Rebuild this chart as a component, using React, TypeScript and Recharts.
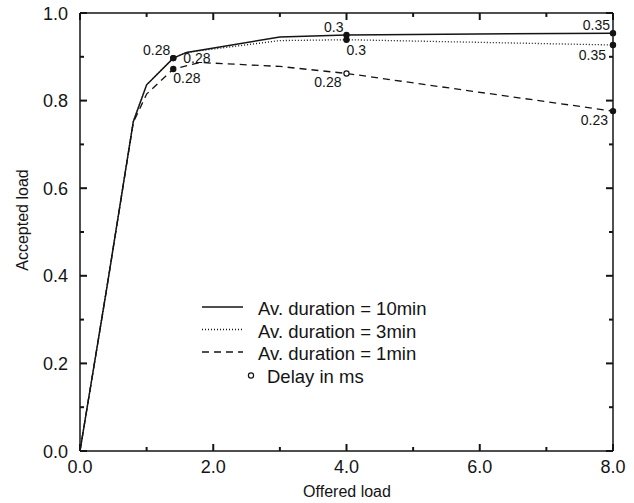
import React from 'react';
import { LineChart, Line, XAxis, YAxis, ReferenceLine } from 'recharts';

// offered load on the x axis, accepted load on the y axis
const offered10 = [0, 0.4, 0.8, 1.0, 1.4, 1.6, 3.0, 4.0, 8.0];
const accepted10 = [0, 0.37, 0.752, 0.836, 0.897, 0.91, 0.945, 0.95, 0.954];
const delay10 = [null, null, null, null, 0.28, null, null, 0.3, 0.35];

const offered3 = [0, 0.4, 0.8, 1.0, 1.4, 1.6, 3.0, 4.0, 8.0];
const accepted3 = [0, 0.37, 0.752, 0.836, 0.897, 0.91, 0.937, 0.939, 0.927];
const delay3 = [null, null, null, null, 0.28, null, null, 0.3, 0.35];

const offered1 = [0, 0.4, 0.8, 1.0, 1.4, 1.8, 3.0, 4.0, 8.0];
const accepted1 = [0, 0.37, 0.75, 0.815, 0.872, 0.887, 0.878, 0.862, 0.776];
const delay1 = [null, null, null, null, 0.28, null, null, 0.28, 0.23];

const xTicks = [0, 1, 2, 3, 4, 5, 6, 7, 8];
const yTicks = [0, 0.1, 0.2, 0.3, 0.4, 0.5, 0.6, 0.7, 0.8, 0.9, 1.0];

const legendItems = [
    { label: 'Av. duration = 10min', dash: undefined as string | undefined, kind: 'line' },
    { label: 'Av. duration = 3min', dash: '1 2', kind: 'line' },
    { label: 'Av. duration = 1min', dash: '7 5', kind: 'line' },
    { label: 'Delay in ms', dash: undefined, kind: 'dot' },
];

const build = (xs: number[], ys: number[], ds: (number | null)[]) =>
    xs.map((x, i) => ({ x, y: ys[i], delay: ds[i] }));

const data10 = build(offered10, accepted10, delay10);
const data3 = build(offered3, accepted3, delay3);
const data1 = build(offered1, accepted1, delay1);

const INK = '#141414';
const FONT = '"Liberation Sans", Arial, Helvetica, sans-serif';
const X_MAX = 8;
const Y_MAX = 1;

const isMajorX = (v: number) => v % 2 === 0;
const isMajorY = (v: number) => Math.round(v * 10) % 2 === 0;

// ticks point into the plot, labels sit outside
const BottomTick = (props: any) => {
    const { x, y, payload } = props;
    const major = isMajorX(payload.value);
    return (
        <g>
            <line x1={x} y1={y} x2={x} y2={y - (major ? 7 : 4)} stroke={INK} strokeWidth={2} />
            {major && (
                <text x={x} y={y + 22} textAnchor="middle" fontSize={18} fontFamily={FONT} fill={INK}>
                    {payload.value.toFixed(1)}
                </text>
            )}
        </g>
    );
};

const LeftTick = (props: any) => {
    const { x, y, payload } = props;
    const major = isMajorY(payload.value);
    return (
        <g>
            <line x1={x} y1={y} x2={x + (major ? 7 : 4)} y2={y} stroke={INK} strokeWidth={2} />
            {major && (
                <text x={x - 12} y={y + 6.5} textAnchor="end" fontSize={18} fontFamily={FONT} fill={INK}>
                    {payload.value.toFixed(1)}
                </text>
            )}
        </g>
    );
};

// dot + delay label, placed per series
const makeDot = (series: string) => (props: any) => {
    const { cx, cy, payload, index } = props;
    if (payload.delay == null) return <g key={`${series}-${index}`} />;
    const open = series === '1' && payload.x === 4;
    let tx = cx - 3;
    let ty = cy - 3;
    let anchor: 'start' | 'end' = 'end';
    if (series === '3') {
        if (payload.x < 2) { tx = cx + 10; ty = cy + 5; anchor = 'start'; }
        else { tx = payload.x >= 8 ? cx - 7 : cx; ty = cy + 15; anchor = payload.x >= 8 ? 'end' : 'start'; }
    } else if (series === '1') {
        ty = cy + 14;
        if (payload.x < 2) { tx = cx; anchor = 'start'; }
        else { tx = cx - 5; anchor = 'end'; }
    }
    return (
        <g key={`${series}-${index}`}>
            <circle cx={cx} cy={cy} r={2.6} fill={open ? '#fff' : INK} stroke={INK} strokeWidth={1.2} />
            <text x={tx} y={ty} textAnchor={anchor} fontSize={14} fontFamily={FONT} fill={INK}>
                {String(payload.delay)}
            </text>
        </g>
    );
};

const ChartLegend = () => (
    <svg width={260} height={100} style={{ position: 'absolute', left: 195, top: 292 }}>
        {legendItems.map((item, i) => {
            const base = 23 + i * 22.5;
            return (
                <g key={item.label}>
                    {item.kind === 'line' ? (
                        <line x1={7} x2={48} y1={base - 8} y2={base - 8} stroke={INK} strokeWidth={1.3}
                            strokeDasharray={item.dash} />
                    ) : (
                        <circle cx={56} cy={base - 7} r={2.6} fill="#fff" stroke={INK} strokeWidth={1.2} />
                    )}
                    <text x={item.kind === 'line' ? 63 : 72} y={base} fontSize={18.5} fontFamily={FONT} fill={INK}>
                        {item.label}
                    </text>
                </g>
            );
        })}
    </svg>
);

const App = () => {
    return (
        <div style={{ position: 'absolute', left: 0, top: 0, width: 634, height: 503 }}>
            <LineChart width={634} height={503} margin={{ top: 13, right: 21, left: 0, bottom: 22 }}>
                <XAxis xAxisId="bottom" type="number" dataKey="x" domain={[0, X_MAX]} ticks={xTicks}
                    height={30} tickSize={0} tickMargin={0} tickLine={false} tick={<BottomTick />}
                    stroke={INK} strokeWidth={1.5} interval={0} />
                <YAxis yAxisId="left" type="number" domain={[0, Y_MAX]} ticks={yTicks} width={80}
                    tickSize={0} tickMargin={0} tickLine={false} tick={<LeftTick />}
                    stroke={INK} strokeWidth={1.5} interval={0} />

                {/* top and right edges of the frame, with inward ticks */}
                <ReferenceLine xAxisId="bottom" yAxisId="left" y={Y_MAX} stroke={INK} strokeWidth={1.5} />
                <ReferenceLine xAxisId="bottom" yAxisId="left" x={X_MAX} stroke={INK} strokeWidth={1.5} />
                {xTicks.map((t) => (
                    <ReferenceLine key={`tx-${t}`} xAxisId="bottom" yAxisId="left" stroke={INK} strokeWidth={2}
                        segment={[{ x: t, y: Y_MAX }, { x: t, y: Y_MAX - (isMajorX(t) ? 0.016 : 0.009) }]} />
                ))}
                {yTicks.map((t) => (
                    <ReferenceLine key={`ty-${t}`} xAxisId="bottom" yAxisId="left" stroke={INK} strokeWidth={2}
                        segment={[{ x: X_MAX, y: t }, { x: X_MAX - (isMajorY(t) ? 0.105 : 0.06), y: t }]} />
                ))}

                <Line xAxisId="bottom" yAxisId="left" data={data1} dataKey="y" type="linear" stroke={INK}
                    strokeWidth={1.3} strokeDasharray="7 5" dot={makeDot('1')} activeDot={false}
                    isAnimationActive={false} />
                <Line xAxisId="bottom" yAxisId="left" data={data3} dataKey="y" type="linear" stroke={INK}
                    strokeWidth={1.3} strokeDasharray="1 2" dot={makeDot('3')} activeDot={false}
                    isAnimationActive={false} />
                <Line xAxisId="bottom" yAxisId="left" data={data10} dataKey="y" type="linear" stroke={INK}
                    strokeWidth={1.5} dot={makeDot('10')} activeDot={false} isAnimationActive={false} />
            </LineChart>
            <svg width={634} height={503} style={{ position: 'absolute', left: 0, top: 0, pointerEvents: 'none' }}>
                <text x={347} y={497} textAnchor="middle" fontSize={16} fontFamily={FONT} fill={INK}>
                    Offered load
                </text>
                <text x={28} y={220} textAnchor="middle" fontSize={16} fontFamily={FONT} fill={INK}
                    transform="rotate(-90 28 220)">
                    Accepted load
                </text>
            </svg>
            <ChartLegend />
        </div>
    );
};

export default App;
